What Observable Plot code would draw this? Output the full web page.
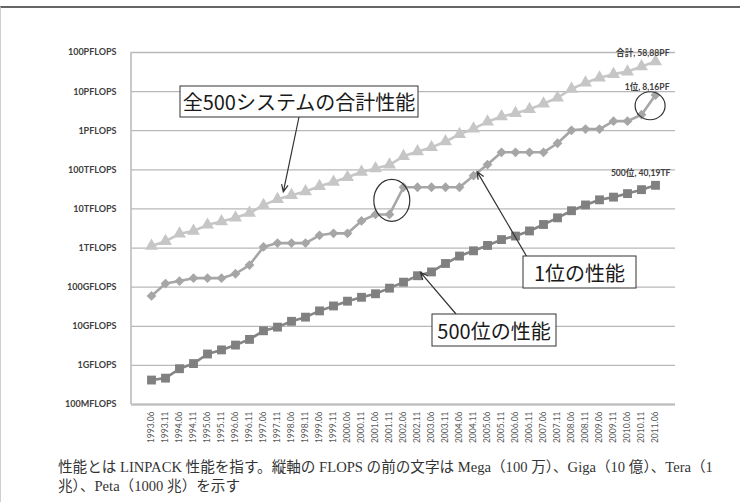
<!DOCTYPE html>
<html>
<head>
<meta charset="utf-8">
<script src="https://cdn.jsdelivr.net/npm/d3@7"></script>
<script src="https://cdn.jsdelivr.net/npm/@observablehq/plot@0.6"></script>
<style>
  body { margin: 0; background: #fff; width: 740px; height: 502px; position: relative; overflow: hidden; }
  #frame { position: absolute; left: 0; top: 6px; width: 739px; height: 496px; border-top: 2px solid #666; border-left: 1px solid #cfcfcf; }
  #chart { position: absolute; left: 0; top: 0; }
  #caption { position: absolute; left: 58px; top: 458px; font: 14.6px/19px "Liberation Serif", "Noto Sans CJK JP", serif; color: #333; white-space: nowrap; }
</style>
</head>
<body>
<div id="frame"></div>
<div id="chart"></div>
<div id="caption">性能とは LINPACK 性能を指す。縦軸の FLOPS の前の文字は Mega（100 万）、Giga（10 億）、Tera（1<br>兆）、Peta（1000 兆）を示す</div>
<script>
// TOP500 list editions (June / November)
const periods = [
  "1993.06","1993.11","1994.06","1994.11","1995.06","1995.11","1996.06","1996.11",
  "1997.06","1997.11","1998.06","1998.11","1999.06","1999.11","2000.06","2000.11",
  "2001.06","2001.11","2002.06","2002.11","2003.06","2003.11","2004.06","2004.11",
  "2005.06","2005.11","2006.06","2006.11","2007.06","2007.11","2008.06","2008.11",
  "2009.06","2009.11","2010.06","2010.11","2011.06"
];

// LINPACK performance in GFLOPS
const totalGF = [
  1128, 1493, 2317, 2732, 3920, 4780, 5960, 7840,
  12500, 17800, 22300, 28000, 38000, 49000, 64500, 88100,
  108500, 134500, 222200, 293400, 374800, 528000, 813100, 1127000,
  1690000, 2300000, 2790000, 3530000, 4920000, 6970000, 11700000, 16950000,
  22600000, 27950000, 32400000, 43700000, 58880000
];
const rank1GF = [
  59.7, 124, 143.4, 170, 170, 170, 220.4, 368.2,
  1068, 1338, 1338, 1338, 2121, 2379, 2379, 4938,
  7226, 7226, 35860, 35860, 35860, 35860, 35860, 70720,
  136800, 280600, 280600, 280600, 280600, 478200, 1026000, 1105000,
  1105000, 1759000, 1759000, 2566000, 8162000
];
const rank500GF = [
  0.422, 0.472, 0.822, 1.114, 1.955, 2.489, 3.306, 4.619,
  7.67, 9.513, 13.39, 17.12, 24.73, 33.08, 43.82, 55.1,
  67.78, 94.3, 134.3, 195.8, 245.1, 403.4, 624, 850.6,
  1166, 1646, 2026, 2737, 4005, 5929, 9000, 12640,
  17090, 20050, 24670, 31120, 40190
];

// vertical axis ticks (GFLOPS) and their labels
const yTicks = [0.1, 1, 10, 100, 1e3, 1e4, 1e5, 1e6, 1e7, 1e8];
const yTickLabels = [
  "100MFLOPS","1GFLOPS","10GFLOPS","100GFLOPS","1TFLOPS",
  "10TFLOPS","100TFLOPS","1PFLOPS","10PFLOPS","100PFLOPS"
];

const rows = periods.map((p, i) => ({p, total: totalGF[i], first: rank1GF[i], last: rank500GF[i]}));
const lastRow = rows[rows.length - 1];
const comma = v => v.toFixed(2).replace(".", ",");

const labelFont = "Lato, 'Noto Sans CJK JP', sans-serif";
const boxFont = "'Noto Sans CJK JP', sans-serif";

// callouts, arrows and highlight ellipses, placed with the chart's scales
function callouts(index, scales, values, dims) {
  const x = scales.x, y = scales.y;
  const xAt = t => {
    const i = Math.floor(t), f = t - i;
    const a = x(periods[i]), b = x(periods[Math.min(i + 1, periods.length - 1)]);
    return a + f * (b - a);
  };
  const yAt = (arr, t) => {
    const i = Math.floor(t), f = t - i;
    const a = y(arr[i]), b = y(arr[Math.min(i + 1, arr.length - 1)]);
    return a + f * (b - a);
  };
  const g = d3.create("svg:g");

  // left axis line
  g.append("line")
    .attr("x1", dims.marginLeft).attr("x2", dims.marginLeft)
    .attr("y1", dims.marginTop).attr("y2", dims.height - dims.marginBottom)
    .attr("stroke", "#bcbcbc").attr("stroke-width", 1.6);

  const boxes = [
    {text: "全500システムの合計性能", x: 180, y: 86, w: 238, h: 31,
     from: [299, 117], to: [xAt(9.45), yAt(totalGF, 9.45) - 5]},
    {text: "1位の性能", x: 523, y: 256, w: 113, h: 32,
     from: [527, 257], to: [xAt(23.3), yAt(rank1GF, 23.3)]},
    {text: "500位の性能", x: 432, y: 314, w: 124, h: 32,
     from: [456, 314], to: [xAt(19.25), yAt(rank500GF, 19.25) - 2]}
  ];

  for (const b of boxes) {
    const [x1, y1] = b.from, [x2, y2] = b.to;
    const ang = Math.atan2(y2 - y1, x2 - x1);
    const L = 8, s = 0.42;
    g.append("path")
      .attr("d", `M${x1},${y1}L${x2},${y2}` +
        `M${x2 - L * Math.cos(ang - s)},${y2 - L * Math.sin(ang - s)}L${x2},${y2}` +
        `L${x2 - L * Math.cos(ang + s)},${y2 - L * Math.sin(ang + s)}`)
      .attr("fill", "none").attr("stroke", "#333").attr("stroke-width", 1.2);
    g.append("rect")
      .attr("x", b.x).attr("y", b.y).attr("width", b.w).attr("height", b.h)
      .attr("fill", "#fff").attr("stroke", "#333").attr("stroke-width", 1);
    g.append("text")
      .attr("x", b.x + b.w / 2).attr("y", b.y + b.h / 2)
      .attr("text-anchor", "middle").attr("dominant-baseline", "central")
      .attr("font-family", boxFont).attr("font-size", 20).attr("fill", "#1a1a1a")
      .text(b.text);
  }

  // highlight the two big jumps of the No.1 system
  const ellipses = [
    {cx: xAt(17.2), cy: yAt(rank1GF, 17.5), rx: 18, ry: 21},
    {cx: xAt(35.65), cy: yAt(rank1GF, 35.43), rx: 15, ry: 14}
  ];
  for (const e of ellipses) {
    g.append("ellipse")
      .attr("cx", e.cx).attr("cy", e.cy).attr("rx", e.rx).attr("ry", e.ry)
      .attr("fill", "none").attr("stroke", "#333").attr("stroke-width", 1.2);
  }
  return g.node();
}

const chart = Plot.plot({
  width: 740,
  height: 452,
  marginLeft: 131,
  marginRight: 65,
  marginTop: 52,
  marginBottom: 48,
  style: {background: "transparent", fontFamily: labelFont},
  x: {type: "point", domain: periods, padding: 0.5, label: null},
  y: {type: "log", domain: [0.1, 1e8], label: null},
  marks: [
    Plot.gridY(yTicks, {stroke: "#b8b8b8", strokeOpacity: 1, strokeWidth: 1.3}),
    Plot.ruleY([0.1], {stroke: "#bcbcbc", strokeWidth: 2}),
    Plot.axisY(yTicks, {
      tickSize: 0, tickPadding: 15, label: null,
      tickFormat: d => yTickLabels[yTicks.indexOf(d)],
      fontWeight: "bold", fontSize: 9, color: "#404040"
    }),
    Plot.axisX({tickSize: 0, tickRotate: -90, tickPadding: 7, fontSize: 8.5, color: "#595959", label: null}),

    // total of all 500 systems
    Plot.line(rows, {x: "p", y: "total", stroke: "#c6c6c6", strokeWidth: 2.6}),
    Plot.dot(rows, {x: "p", y: "total", symbol: "triangle", r: 4.8, fill: "#c6c6c6", stroke: "none"}),
    // No.1 system
    Plot.line(rows, {x: "p", y: "first", stroke: "#a6a6a6", strokeWidth: 2.6}),
    Plot.dot(rows, {x: "p", y: "first", symbol: "diamond2", r: 4.4, fill: "#a6a6a6", stroke: "none"}),
    // No.500 system
    Plot.line(rows, {x: "p", y: "last", stroke: "#858585", strokeWidth: 2.6}),
    Plot.dot(rows, {x: "p", y: "last", symbol: "square", r: 5, fill: "#808080", stroke: "none"}),

    // end-point labels
    Plot.text([lastRow], {x: "p", y: "total", text: d => "合計, " + comma(d.total / 1e6) + "PF",
      textAnchor: "end", dx: 14, dy: -8, fontWeight: "bold", fontSize: 8.6, fill: "#404040"}),
    Plot.text([lastRow], {x: "p", y: "first", text: d => "1位, " + comma(d.first / 1e6) + "PF",
      textAnchor: "end", dx: 14, dy: -8, fontWeight: "bold", fontSize: 8.6, fill: "#404040"}),
    Plot.text([lastRow], {x: "p", y: "last", text: d => "500位, " + comma(d.last / 1e3) + "TF",
      textAnchor: "end", dx: 15, dy: -12.5, fontWeight: "bold", fontSize: 8.6, fill: "#404040"}),

    callouts
  ]
});

document.getElementById("chart").append(chart);
</script>
</body>
</html>
